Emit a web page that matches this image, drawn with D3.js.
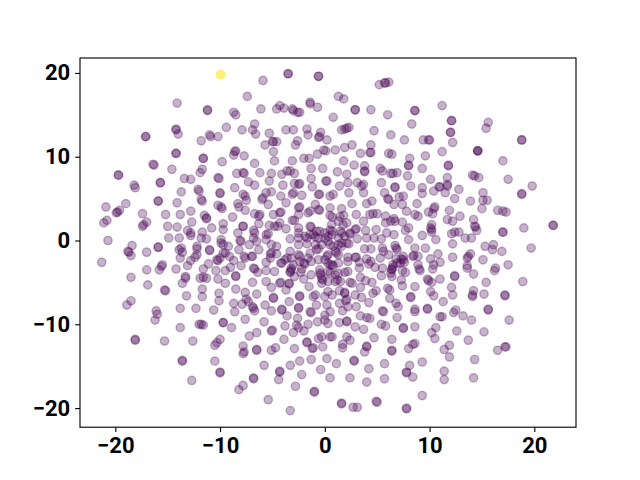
<!DOCTYPE html>
<html>

<head>
    <meta charset="utf-8">
    <title>scatter</title>
    <script src="https://d3js.org/d3.v7.min.js"></script>
    <style>
        body { margin: 0; background: #fff; }
        text { font-family: Roboto, sans-serif; font-weight: 700; }
    </style>
</head>

<body>
    <div id="chart"></div>

    <script>
        // values, [x, y] per point
        const classOne = [[-9.95,19.8]];
        const upperLeft = [[-5.9,19.1],[-3.5,19.9],[-3.5,19.9],[-0.6,19.6],[-0.6,19.6],[-7.4,17.2],[-14.1,16.4],[-11.2,15.6],[-11.2,15.5],[-8.7,15.3],[-8.5,15.0],[-6.1,15.7],[-4.3,16.1],[-4.6,15.7],[-3.9,15.8],[-1.4,16.5],[-1.4,16.3],[-3.1,15.7],[-2.6,15.3],[-3.0,15.5],[-2.4,15.3],[-0.7,15.9],[-6.7,13.9],[-14.2,13.3],[-14.2,13.2],[-14.0,12.7],[-17.1,12.4],[-17.1,12.4],[-9.4,13.5],[-7.9,13.2],[-6.9,13.2],[-6.6,12.7],[-11.0,12.6],[-10.9,12.4],[-10.2,12.4],[-11.8,11.9],[-5.3,12.8],[-3.7,13.2],[-3.0,13.2],[-1.7,13.3],[-1.6,12.6],[-0.5,12.4],[-0.6,12.3],[-0.4,12.9],[0.2,12.0],[-5.0,11.8],[-4.9,11.8],[-4.6,11.8],[-2.6,11.9],[-2.8,11.4],[-5.7,11.4],[-0.1,10.8],[-14.2,10.4],[-14.2,10.4],[-8.6,10.6],[-8.7,10.2],[-8.5,10.7],[-7.7,10.1],[-4.9,10.6],[-4.8,9.5],[-11.6,9.8],[-11.6,9.8],[-2.0,9.8],[-1.5,9.8],[-0.7,10.3],[-3.1,9.5],[-9.8,9.4],[-6.7,9.2],[-16.4,9.1],[-16.3,9.0],[-14.6,8.5],[-1.3,8.6],[-0.2,8.6],[-11.7,8.5],[-11.9,8.1],[-19.7,7.8],[-19.7,7.8],[-13.4,7.4],[-12.8,7.3],[-10.2,7.5],[-10.1,7.4],[-8.4,8.0],[-7.8,8.1],[-7.7,8.0],[-6.2,8.1],[-5.1,8.0],[-4.1,7.9],[-3.6,8.3],[-3.3,8.3],[-2.9,8.0],[-1.3,7.4],[-15.7,6.9],[-15.7,6.9],[-7.3,7.0],[-5.3,7.1],[-6.7,6.6],[-18.2,6.6],[-18.1,6.3],[-8.6,6.3],[-4.0,6.6],[-2.9,6.8],[-2.4,6.8],[-2.5,6.7],[0.1,7.1],[0.2,7.1],[-1.2,6.4],[-13.7,5.8],[-12.1,6.1],[-12.0,5.9],[-10.0,5.7],[-10.0,5.6],[-5.1,5.8],[-5.6,5.7],[-7.8,5.5],[-7.6,5.3],[-3.0,5.7],[-3.1,5.5],[-4.2,5.3],[-2.2,5.4],[-0.6,5.5],[-0.5,5.5],[0.5,5.3],[-15.9,4.7],[-15.9,4.7],[-11.8,4.9],[-11.7,4.7],[-14.1,4.5],[-7.5,4.8],[-6.0,4.9],[-5.9,5.1],[-3.7,4.5],[-5.4,4.3],[-10.2,4.2],[-9.8,3.8],[-9.9,4.0],[-8.3,4.4],[-8.2,4.0],[-2.4,4.0],[-2.5,3.9],[-0.9,4.3],[-20.9,4.0],[-19.0,4.4],[-19.6,3.6],[-19.9,3.3],[-19.8,3.4],[-17.4,3.2],[-15.2,3.1],[-13.8,3.1],[-12.8,3.5],[-7.6,3.6],[-4.3,3.3],[-4.2,3.4],[-4.9,3.1],[-0.6,3.7],[-0.5,3.6],[0.5,3.9],[-1.6,3.3],[-1.4,3.5],[-6.7,3.2],[-6.2,3.1],[-6.3,2.9],[-8.8,2.8],[-11.5,3.0],[-11.3,2.7],[-11.3,2.6],[-2.5,3.1],[-2.9,2.4],[-3.1,2.4],[-20.8,2.4],[-21.1,2.1],[-17.0,2.2],[-17.4,1.7],[-17.3,1.9],[-12.7,2.2],[-9.7,2.0],[-7.8,1.7],[-7.8,1.7],[-6.3,2.0],[-5.3,1.8],[-4.3,2.1],[-15.0,1.7],[-14.1,1.6],[-10.8,1.5],[-9.7,1.3],[-8.3,0.9],[-6.8,1.2],[-6.7,0.9],[-5.6,0.7],[-5.4,0.8],[-4.8,1.7],[-3.7,1.4],[-2.5,1.5],[-1.4,1.7],[-0.8,1.1],[-0.5,1.1],[-13.1,1.2],[-12.8,0.9],[-12.8,0.6],[-11.7,1.0],[-11.3,0.2],[-11.8,0.3],[-14.9,0.3],[-13.9,0.3],[-20.7,0.0],[-3.3,0.2],[-2.5,0.9],[-1.7,0.3],[-1.1,0.7],[0.0,0.9],[0.3,0.5],[-1.3,1.6],[-2.5,0.3],[-6.8,0.3],[-5.6,0.1],[-8.1,0.0],[-9.9,0.1]];
        const upperRight = [[5.2,18.6],[5.7,18.8],[5.8,18.8],[6.1,18.9],[1.3,17.2],[1.8,16.9],[2.9,15.6],[2.9,15.6],[4.4,15.6],[8.6,15.5],[8.6,15.5],[11.2,16.1],[0.8,14.7],[6.0,15.0],[12.1,14.3],[12.1,14.3],[15.6,14.1],[15.4,13.4],[8.3,13.9],[1.6,13.2],[1.9,13.3],[2.1,13.4],[2.3,13.5],[4.7,13.1],[12.0,12.9],[12.0,12.9],[6.3,12.6],[7.6,12.0],[9.4,12.0],[9.9,12.0],[10.0,12.0],[12.2,11.7],[18.8,12.0],[18.8,12.0],[4.4,11.4],[2.6,11.4],[1.9,11.1],[1.0,10.8],[0.1,10.7],[4.4,10.5],[4.3,10.5],[3.4,10.4],[6.1,10.4],[6.4,10.3],[11.2,10.6],[14.6,10.7],[14.6,10.7],[14.6,10.7],[9.6,10.1],[8.1,9.8],[17.0,9.5],[1.8,9.5],[2.8,9.0],[3.8,8.9],[8.0,9.0],[8.0,8.9],[9.3,8.6],[11.8,9.0],[11.8,8.9],[5.3,8.6],[5.5,8.3],[3.8,8.2],[3.8,8.3],[6.3,8.0],[6.5,8.0],[6.9,8.1],[1.2,8.2],[2.1,7.9],[7.9,7.7],[14.1,7.8],[14.3,7.7],[14.7,7.5],[11.7,7.5],[10.1,7.3],[17.5,7.3],[19.8,6.5],[2.2,6.9],[3.1,6.9],[5.4,6.9],[1.4,6.5],[3.5,6.5],[3.7,6.7],[8.2,6.5],[6.7,6.3],[6.7,6.4],[9.3,6.3],[10.9,6.4],[11.0,6.4],[11.7,6.5],[11.7,6.7],[12.8,6.1],[2.3,5.7],[3.7,5.7],[5.7,5.7],[10.4,5.9],[11.5,5.7],[9.3,5.6],[15.1,5.7],[18.8,5.6],[18.8,5.5],[0.8,5.5],[6.0,5.0],[6.1,4.9],[7.1,5.2],[7.5,5.3],[12.4,5.0],[13.9,4.7],[15.1,4.8],[15.5,4.8],[8.8,4.4],[4.5,4.7],[4.0,4.4],[2.6,4.4],[6.6,4.3],[7.4,4.3],[1.6,3.8],[10.5,4.0],[10.4,3.8],[15.0,3.8],[16.5,3.6],[17.0,3.5],[17.3,3.4],[7.8,3.5],[11.9,3.6],[9.9,3.4],[10.3,3.2],[8.6,3.1],[8.9,2.9],[4.3,3.1],[4.6,3.2],[5.0,3.2],[3.0,3.1],[1.8,3.0],[0.7,2.8],[5.8,2.9],[12.9,2.9],[11.7,2.5],[12.2,2.3],[14.2,2.5],[3.7,2.3],[5.8,2.1],[6.3,2.3],[6.6,2.6],[6.7,2.3],[7.4,2.2],[2.1,2.1],[1.3,2.3],[10.2,1.9],[14.4,1.6],[14.5,1.2],[14.3,1.7],[19.0,1.5],[21.8,1.8],[21.8,1.8],[17.0,1.0],[17.0,1.0],[10.1,1.5],[10.2,1.3],[10.2,1.0],[8.0,1.5],[7.7,1.2],[9.3,0.6],[12.1,0.8],[12.4,1.0],[12.8,1.0],[3.0,1.4],[2.9,1.3],[2.4,0.9],[4.9,1.3],[3.9,1.2],[6.6,0.7],[5.9,0.9],[4.0,0.3],[4.7,0.3],[5.4,0.2],[3.1,0.2],[8.0,0.1],[13.4,0.3],[14.0,0.3],[10.6,0.1],[0.7,1.1],[1.5,1.1],[1.9,0.5],[0.7,0.7],[1.3,0.3]];
        const lowerLeft = [[-18.4,-0.6],[-18.8,-1.3],[-18.7,-1.4],[-18.5,-1.8],[-17.0,-1.4],[-15.9,-0.8],[-15.9,-0.8],[-21.3,-2.6],[-13.9,-1.1],[-13.7,-0.9],[-13.6,-1.4],[-13.8,-2.1],[-12.2,-0.7],[-12.2,-1.0],[-12.2,-1.7],[-12.4,-2.0],[-12.8,-2.4],[-13.1,-3.0],[-11.0,-1.1],[-11.0,-1.2],[-15.5,-2.9],[-15.6,-3.1],[-15.8,-3.5],[-17.0,-3.5],[-18.5,-4.4],[-14.2,-3.4],[-13.3,-4.3],[-13.3,-4.5],[-13.6,-5.1],[-11.9,-4.5],[-11.3,-4.5],[-11.6,-4.4],[-16.9,-5.3],[-15.3,-5.9],[-15.2,-6.0],[-11.7,-5.8],[-11.7,-6.7],[-13.2,-6.6],[-18.5,-7.2],[-18.9,-7.7],[-10.1,-6.3],[-10.1,-7.2],[-16.1,-8.4],[-16.0,-8.8],[-16.2,-9.5],[-13.8,-8.1],[-12.3,-8.1],[-10.6,-8.3],[-8.7,-7.5],[-7.9,-7.6],[-8.6,-8.5],[-13.8,-10.4],[-12.0,-10.0],[-11.8,-10.0],[-11.6,-10.1],[-9.7,-9.8],[-9.7,-9.8],[-8.9,-10.4],[-18.1,-11.8],[-18.1,-11.9],[-15.3,-12.0],[-12.6,-12.0],[-10.0,-11.8],[-10.3,-12.2],[-10.5,-12.5],[-13.6,-14.3],[-13.6,-14.4],[-10.5,-14.4],[-10.0,-15.7],[-10.0,-15.8],[-12.7,-16.7],[-7.8,-17.3],[-8.2,-17.8],[-6.8,-16.4],[-6.8,-16.5],[-5.4,-19.0],[-3.3,-20.3],[-1.0,-18.0],[-1.0,-18.1],[-2.8,-17.4],[-4.4,-16.6],[-4.3,-15.6],[-4.3,-15.7],[-2.2,-16.0],[-0.4,-15.4],[0.5,-16.4],[-5.8,-14.9],[-3.3,-14.9],[-2.4,-14.4],[-1.3,-14.2],[0.2,-14.1],[-6.5,-13.0],[-6.5,-13.1],[-7.8,-12.6],[-7.7,-13.3],[-7.8,-13.5],[-7.2,-11.4],[-6.5,-11.0],[-5.1,-13.1],[-4.7,-12.8],[-2.9,-12.9],[-3.9,-11.8],[-5.1,-10.8],[-5.0,-10.7],[-5.8,-9.7],[-7.6,-9.4],[-3.8,-10.2],[-3.0,-11.0],[-2.0,-10.8],[-1.6,-10.0],[-2.6,-9.3],[-2.7,-10.1],[-2.5,-10.4],[-1.7,-12.1],[-1.7,-12.2],[-1.2,-12.9],[-1.1,-12.8],[-0.2,-12.7],[-0.6,-11.7],[-0.3,-11.5],[-1.3,-8.6],[-1.4,-8.5],[-0.7,-9.7],[0.0,-9.5],[0.3,-9.9],[0.5,-11.5],[-4.1,-8.2],[-4.1,-8.3],[-5.1,-8.4],[-3.6,-9.0],[-2.5,-8.0],[-2.5,-8.1],[-3.4,-7.3],[-4.9,-6.8],[-4.9,-6.9],[-5.7,-7.7],[-6.8,-8.1],[-6.7,-8.4],[-6.9,-7.9],[-7.3,-7.3],[-7.5,-7.0],[-7.6,-6.2],[-6.5,-6.4],[-8.5,-5.8],[-5.1,-5.6],[-4.3,-5.1],[-3.7,-5.9],[-3.4,-5.1],[-3.4,-5.2],[-5.6,-4.9],[-6.9,-5.0],[-9.5,-5.1],[-10.2,-4.6],[-8.5,-4.2],[-8.5,-4.3],[-6.4,-3.8],[-6.8,-3.3],[-6.7,-3.4],[-8.0,-3.0],[-10.4,-3.6],[-9.5,-3.6],[-11.6,-3.4],[-11.1,-2.8],[-10.2,-2.4],[-10.3,-2.3],[-10.0,-2.1],[-9.7,-1.5],[-9.1,-1.9],[-8.7,-2.4],[-9.0,-3.2],[-9.5,-1.5],[-9.9,-0.3],[-9.7,-0.5],[-9.2,-0.7],[-8.2,-1.1],[-7.7,-1.9],[-7.6,-2.1],[-7.0,-1.9],[-7.2,-0.5],[-6.3,-1.1],[-8.0,-0.1],[-6.5,-0.1],[-5.1,-1.5],[-5.2,-1.6],[-5.1,-0.5],[-4.6,-0.7],[-4.1,-2.7],[-3.8,-2.3],[-3.3,-1.3],[-3.2,-2.1],[-3.2,-3.5],[-3.3,-3.8],[-2.9,-4.3],[-2.5,-1.7],[-2.4,-1.9],[-2.4,-2.5],[-1.9,-2.8],[-1.3,-2.5],[-2.2,-3.4],[-2.0,-4.6],[-2.5,-0.5],[-1.7,-0.4],[-0.9,-0.5],[-0.3,-0.5],[-1.5,-5.5],[-0.5,-3.5],[-0.4,-4.1],[-0.2,-4.7],[-0.3,-4.5],[0.3,-4.9],[0.3,-2.7],[-0.6,-2.3],[-0.9,-6.5],[-1.1,-6.7],[-0.8,-7.7],[0.0,-6.7],[0.3,-6.1],[-2.4,-6.6],[-2.4,-6.7],[0.2,-7.7],[0.0,-8.9],[0.5,-8.5]];
        const lowerRight = [[19.7,-0.9],[16.1,-0.5],[16.0,-1.1],[15.3,-0.7],[16.9,-1.3],[12.2,-0.4],[9.6,-0.9],[8.6,-0.9],[6.7,-0.6],[6.8,-0.9],[5.5,-0.9],[5.6,-1.3],[3.8,-1.0],[4.4,-1.0],[3.0,-2.0],[2.9,-2.0],[13.9,-1.6],[13.7,-1.9],[13.6,-2.1],[12.2,-2.0],[10.8,-1.6],[10.1,-2.2],[11.0,-2.6],[10.4,-2.9],[10.3,-3.4],[8.5,-1.8],[8.4,-1.9],[8.9,-1.9],[15.1,-2.3],[17.5,-2.9],[16.3,-3.3],[16.2,-3.6],[13.6,-3.0],[13.6,-3.3],[14.2,-4.0],[12.4,-4.2],[12.4,-4.3],[15.4,-5.0],[18.9,-4.9],[11.0,-4.6],[12.1,-5.6],[12.2,-6.5],[11.3,-7.3],[10.1,-6.1],[10.4,-6.6],[9.8,-4.6],[9.9,-4.8],[10.2,-5.0],[8.6,-5.5],[7.4,-5.4],[7.3,-4.7],[8.9,-2.9],[9.0,-3.4],[9.1,-3.6],[7.7,-3.8],[7.4,-3.6],[7.5,-1.9],[7.2,-2.7],[6.4,-4.3],[6.3,-3.9],[6.4,-3.4],[6.5,-3.2],[6.9,-2.7],[5.4,-4.2],[5.5,-3.3],[4.8,-3.2],[4.4,-2.5],[4.2,-2.8],[4.0,-2.2],[5.3,-2.1],[6.1,-1.7],[6.9,-1.1],[7.5,-2.3],[14.2,-6.0],[14.1,-6.5],[14.1,-6.7],[15.2,-6.4],[17.2,-6.5],[17.2,-6.6],[15.6,-8.2],[15.6,-8.3],[17.6,-9.5],[14.0,-9.5],[13.2,-9.0],[12.5,-8.3],[12.3,-8.6],[11.0,-9.1],[11.2,-9.1],[9.8,-8.1],[9.8,-8.2],[8.6,-8.2],[8.6,-8.5],[6.9,-9.2],[6.8,-7.5],[7.0,-7.9],[8.2,-6.7],[8.2,-6.8],[6.2,-5.9],[6.0,-5.7],[6.2,-6.9],[4.9,-6.0],[4.6,-6.3],[5.5,-8.4],[5.6,-8.5],[4.2,-7.4],[3.5,-6.8],[2.9,-6.5],[3.0,-7.9],[2.2,-7.9],[1.7,-8.4],[2.1,-9.6],[2.1,-9.7],[1.4,-9.8],[3.4,-9.0],[4.0,-9.2],[4.3,-9.3],[2.9,-10.3],[3.7,-10.6],[5.4,-10.0],[5.8,-10.2],[7.5,-10.4],[7.5,-10.5],[8.6,-10.3],[10.6,-10.4],[10.2,-11.0],[10.5,-11.7],[12.6,-10.8],[15.2,-10.9],[13.7,-11.9],[11.9,-12.5],[11.4,-13.0],[11.9,-13.9],[14.3,-14.2],[16.5,-13.1],[17.2,-12.7],[17.3,-12.7],[8.6,-12.3],[8.4,-12.4],[8.0,-12.9],[6.4,-13.1],[6.4,-13.2],[6.4,-11.8],[4.7,-11.6],[4.0,-12.6],[4.0,-12.7],[3.8,-13.3],[2.1,-11.5],[2.4,-11.9],[1.7,-12.4],[1.7,-12.8],[0.7,-11.5],[2.8,-14.3],[2.8,-14.4],[1.1,-14.7],[4.2,-15.3],[5.7,-14.7],[8.1,-14.9],[9.3,-14.5],[7.8,-15.7],[7.8,-15.8],[8.4,-16.3],[11.4,-15.6],[11.4,-16.6],[14.2,-16.4],[5.7,-16.5],[4.0,-16.9],[2.4,-16.4],[9.3,-18.5],[1.6,-19.4],[1.6,-19.5],[2.7,-19.9],[3.1,-19.9],[5.0,-19.3],[4.9,-19.2],[7.8,-20.0],[7.8,-20.1],[1.9,-6.2],[1.9,-6.3],[2.1,-7.0],[2.0,-7.2],[1.5,-4.9],[1.0,-4.9],[2.6,-5.1],[2.4,-5.0],[3.4,-5.6],[3.9,-4.8],[4.5,-5.0],[3.3,-3.3],[3.4,-4.4],[2.2,-3.7],[1.9,-3.8],[1.3,-3.9],[0.5,-2.9],[0.8,-3.0],[1.3,-2.7],[2.2,-2.0],[2.2,-2.5],[0.5,-0.5],[0.8,-0.7],[1.6,-0.3],[2.3,-0.4],[1.1,-1.5],[0.3,-1.7],[0.0,-2.3],[1.2,-4.7]];
        // dense middle
        const central = [[-4.5,1.7],[-1.9,0.5],[-1.4,0.7],[-0.6,0.25],[-0.9,0.45],[0.0,0.25],[0.5,1.25],[0.65,1.9],[1.75,1.85],[2.4,0.75],[1.6,0.85],[0.5,3.0],[1.45,2.85],[-3.0,-2.9],[-3.2,-3.3],[-3.6,-2.1],[-5.6,-3.6],[-4.8,-3.7],[-3.3,-3.7],[-2.3,-3.8],[-1.3,-4.1],[-0.45,-3.9],[-0.3,-5.1],[-4.2,-2.7],[-5.2,-2.1],[-2.0,-2.7],[-1.6,-2.1],[-0.8,-1.1],[0.3,-3.7],[-6.9,-1.9],[-4.6,-1.6],[-1.4,-1.5],[-0.6,-1.0],[-5.6,-2.6],[-4.2,-5.0],[0.3,-0.1],[1.3,-0.5],[1.6,-0.7],[2.1,-0.3],[1.0,-1.3],[1.3,-1.7],[0.2,-1.9],[0.7,-2.9],[3.3,-2.6],[6.5,-2.9],[6.4,-3.5],[6.8,-2.2],[7.6,-2.6],[7.3,-2.2],[0.5,-3.9],[1.0,-4.1],[1.4,-6.0],[0.7,-6.5],[1.4,-7.5]];
        const tickValues = [-20, -10, 0, 10, 20];
        const xDomain = [-23.37, 23.98];
        const yDomain = [-22.28, 21.78];

        const width = 640, height = 480;
        const margin = { top: 58, right: 64, bottom: 52.8, left: 80 };

        const svg = d3.select('#chart').append('svg')
            .attr('width', width)
            .attr('height', height)
            .style('display', 'block');

        const x = d3.scaleLinear().domain(xDomain).range([margin.left, width - margin.right]);
        const y = d3.scaleLinear().domain(yDomain).range([height - margin.bottom, margin.top]);
        const color = d3.scaleSequential(d3.interpolateViridis).domain([0, 1]);

        const points = [
            ...upperLeft, ...upperRight, ...lowerLeft, ...lowerRight, ...central
        ].map(d => ({ x: d[0], y: d[1], label: 0 }))
            .concat(classOne.map(d => ({ x: d[0], y: d[1], label: 1 })));

        svg.append('g').selectAll('circle')
            .data(points)
            .enter().append('circle')
            .attr('cx', d => x(d.x))
            .attr('cy', d => y(d.y))
            .attr('r', 4.17)
            .attr('fill', d => color(d.label))
            .attr('fill-opacity', d => d.label ? 0.6 : 0.3)
            .attr('stroke', d => color(d.label))
            .attr('stroke-opacity', d => d.label ? 0.6 : 0.3)
            .attr('stroke-width', 1.39);

        // frame
        svg.append('rect')
            .attr('x', margin.left)
            .attr('y', margin.top)
            .attr('width', width - margin.left - margin.right)
            .attr('height', height - margin.top - margin.bottom)
            .attr('fill', 'none')
            .attr('stroke', '#000')
            .attr('stroke-width', 1.11);

        const xAxis = svg.append('g')
            .attr('transform', `translate(0,${height - margin.bottom})`)
            .call(d3.axisBottom(x).tickValues(tickValues).tickSize(4.86).tickPadding(5));
        const yAxis = svg.append('g')
            .attr('transform', `translate(${margin.left},0)`)
            .call(d3.axisLeft(y).tickValues(tickValues).tickSize(4.86).tickPadding(5));

        [xAxis, yAxis].forEach(a => {
            a.select('.domain').remove();
            a.selectAll('line').attr('stroke-width', 1.11);
            a.selectAll('text')
                .style('font-size', '22px')
                .style('font-family', 'Roboto, sans-serif')
                .style('font-weight', 700)
                .attr('fill', '#000');
        });
    </script>

</body>

</html>
